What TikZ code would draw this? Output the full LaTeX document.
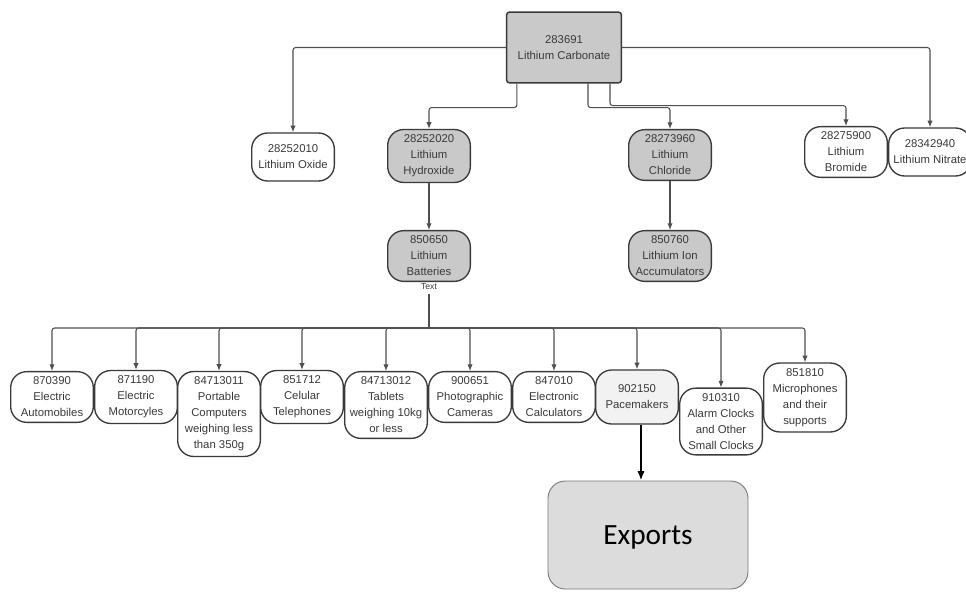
\documentclass[tikz,border=0pt]{standalone}
\usepackage{fontspec}
\setmainfont{Liberation Sans}
\newfontfamily\calibrifont{Carlito}
\usetikzlibrary{arrows.meta,positioning,calc}
\definecolor{bxgray}{HTML}{C9C9C9}
\definecolor{lnkgray}{HTML}{4F4F4F}
\definecolor{txgray}{HTML}{3A3A3A}
\definecolor{pcgray}{HTML}{F2F2F2}
\definecolor{exgray}{HTML}{DCDCDC}
\definecolor{exedge}{HTML}{7A7A7A}

\begin{document}
\begin{tikzpicture}[x=0.75pt,y=-0.75pt,font=\fontsize{8.5}{12}\selectfont,
  hsbox/.style={draw=txgray,line width=1pt,rounded corners=12pt,fill=white,
    text=txgray,align=center,minimum width=62pt,minimum height=36pt,
    inner xsep=2pt,inner ysep=4pt},
  hsgray/.style={hsbox,fill=bxgray},
  conn/.style={draw=lnkgray,line width=0.8pt,rounded corners=2pt,
    -{Latex[length=5pt,width=4pt]}}]

  \useasboundingbox (0,0) rectangle (966,592);
  \clip (0,0) rectangle (966,592);

  % =====================================================================
  % TOP: Lithium Carbonate and its first derivatives
  % =====================================================================
  \node[draw=txgray,line width=1.1pt,rounded corners=2pt,fill=bxgray,text=txgray,
        align=center,minimum width=86pt,minimum height=53pt] (carb) at (564,47.5)
        {283691\\Lithium Carbonate};

  \node[hsbox]  (oxide)  at (293,157) {28252010\\Lithium Oxide};
  \node[hsgray] (hydrox) at (429,156) {28252020\\Lithium\\Hydroxide};
  \node[hsgray] (chlor)  at (670,155) {28273960\\Lithium\\Chloride};
  \node[hsbox]  (brom)   at (846,152) {28275900\\Lithium\\Bromide};
  \node[hsbox]  (nitr)   at (930,152) {28342940\\Lithium Nitrate};

  % Links from the carbonate box
  \draw[conn] (carb.west) -| (oxide.north);
  \draw[conn] (carb.east) -| (nitr.north);
  \draw[conn] ([xshift=8.25pt]carb.south west) -- ++(0,24) -| (hydrox.north);
  \draw[conn] ([xshift=18pt]carb.south) -- ++(0,24) -| (chlor.north);
  \draw[conn] ([xshift=34.5pt]carb.south) -- ++(0,22) -| (brom.north);

  % =====================================================================
  % MIDDLE: Batteries and Accumulators
  % =====================================================================
  \node[hsgray] (batt)   at (429,256) {850650\\Lithium\\Batteries};
  \node[hsgray] (ionacc) at (670,256) {850760\\Lithium Ion\\Accumulators};
  \node[below=0pt of batt,font=\fontsize{6.5}{7}\selectfont,text=txgray,inner sep=1pt]
        (battlbl) {Text};

  \draw[conn] (hydrox) -- (batt);
  \draw[conn] (chlor) -- (ionacc);

  % =====================================================================
  % BOTTOM: Products that use lithium batteries
  % =====================================================================
  \node[hsbox] (auto)   at (52,397)  {870390\\Electric\\Automobiles};
  \node[hsbox] (moto)   at (136,397) {871190\\Electric\\Motorcyles};
  \node[hsbox] (laptop) at (219,414) {84713011\\Portable\\Computers\\weighing less\\than 350g};
  \node[hsbox] (phone)  at (302,397) {851712\\Celular\\Telephones};
  \node[hsbox] (tablet) at (386,405) {84713012\\Tablets\\weighing 10kg\\or less};
  \node[hsbox] (camera) at (470,397) {900651\\Photographic\\Cameras};
  \node[hsbox] (calc)   at (554,397) {847010\\Electronic\\Calculators};
  \node[hsbox,fill=pcgray,minimum height=40.5pt] (pace) at (637,397) {902150\\Pacemakers};
  \node[hsbox] (clock)  at (721,421.5) {910310\\Alarm Clocks\\and Other\\Small Clocks};
  \node[hsbox] (micro)  at (805,397.5) {851810\\Microphones\\and their\\supports};

  % Bus from the batteries
  \coordinate (bus) at (429,328);
  \draw[lnkgray,line width=0.8pt,shorten <=2pt] (battlbl.south) -- (bus);
  \foreach \n in {auto,moto,laptop,phone,tablet,camera,calc,pace,clock,micro} {
    \draw[conn] (bus) -| (\n.north);
  }

  % Exports
  \node[draw=exedge,line width=0.7pt,fill=exgray,rounded corners=13pt,
        minimum width=150pt,minimum height=81pt,text depth=0pt,
        font=\calibrifont\fontsize{22}{26}\selectfont] (exp) at (648,535) {Exports};
  \draw[black,line width=1.5pt,-{Latex[length=7pt,width=5.5pt]}]
        ([xshift=3pt]pace.south) -- ([xshift=3pt]pace.south |- exp.north);

\end{tikzpicture}
\end{document}
